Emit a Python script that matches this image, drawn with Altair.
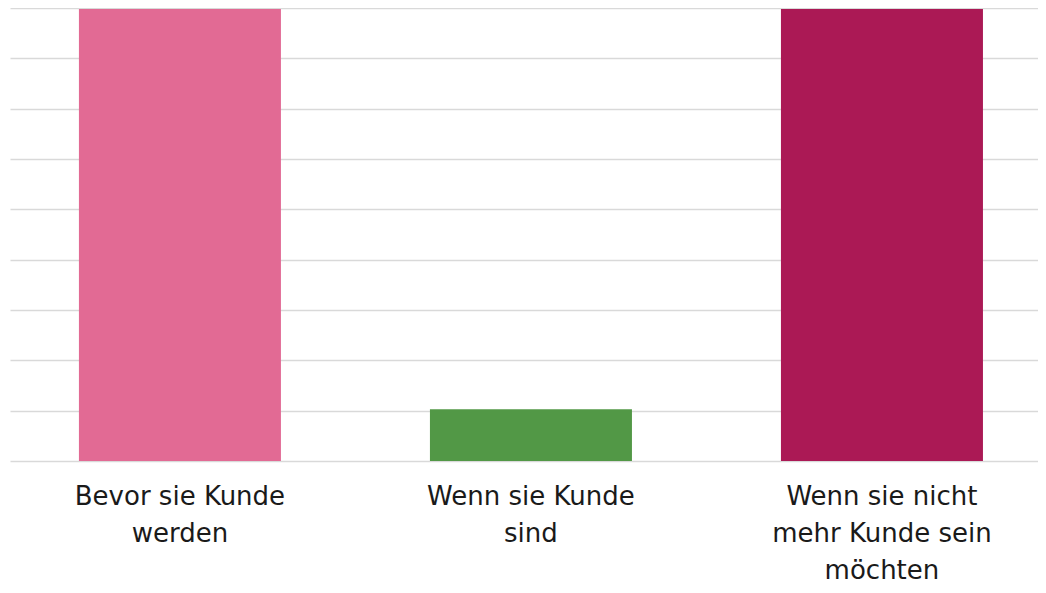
import altair as alt
import pandas as pd

categories = ["Bevor sie Kunde|werden", "Wenn sie Kunde|sind", "Wenn sie nicht|mehr Kunde sein|möchten"]
values = [8.98, 1.03, 8.98]
colors = ["#e26a94", "#529846", "#ab1955"]
grid_values = [0, 1, 2, 3, 4, 5, 6, 7, 8, 9]

df = pd.DataFrame({"cat": categories, "val": values, "color": colors})

chart = alt.Chart(df).mark_bar().encode(
    x=alt.X("cat:N", sort=categories,
            scale=alt.Scale(paddingInner=0.4245, paddingOuter=0.1766, align=0.556),
            axis=alt.Axis(title=None, labelAngle=0, ticks=False, domain=False,
                          labelExpr="split(datum.label, '|')",
                          labelFont="DejaVu Sans", labelFontSize=26,
                          labelLineHeight=37, labelColor="#1a1a1a",
                          labelPadding=22, labelLimit=400)),
    y=alt.Y("val:Q", scale=alt.Scale(domain=[0, 9], nice=False),
            axis=alt.Axis(title=None, labels=False, ticks=False, domain=False,
                          values=grid_values, labelOverlap=False,
                          gridColor="#d9d9d9", gridWidth=1.3)),
    color=alt.Color("color:N", scale=None),
).properties(
    width=1028, height=453,
    autosize=alt.AutoSizeParams(type="none"),
    padding={"left": 2, "top": 0, "right": 0, "bottom": 122},
).configure_view(stroke=None)

chart.save("out.html", embed_options={"renderer": "svg", "actions": False})
